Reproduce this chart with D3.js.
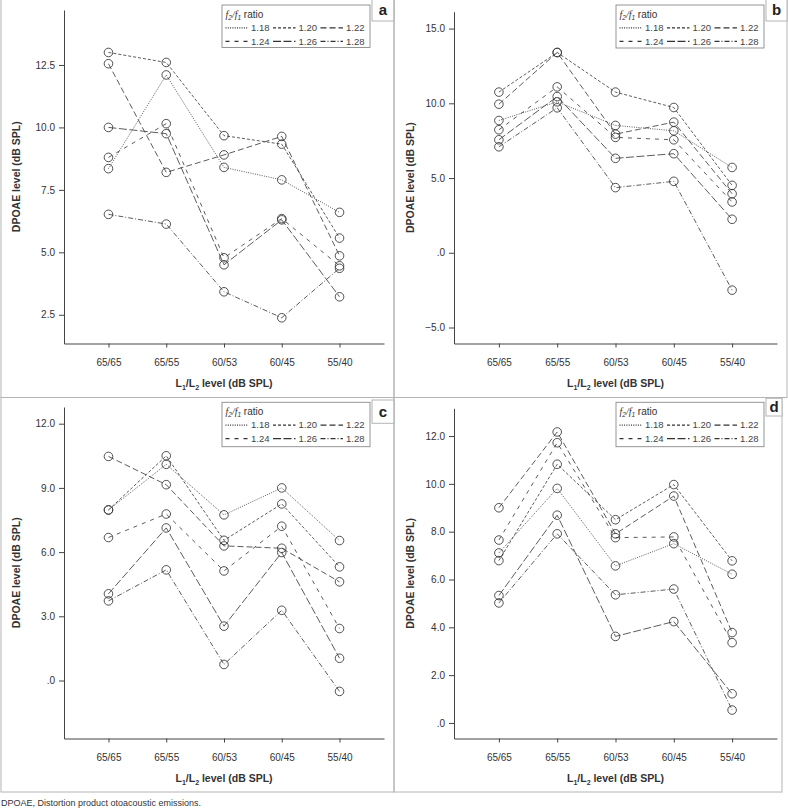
<!DOCTYPE html>
<html>
<head>
<meta charset="utf-8">
<script src="https://cdn.jsdelivr.net/npm/d3@7"></script>
<style>
body { margin: 0; background: #fff; }
svg { display: block; font-family: 'Liberation Sans', Arial, sans-serif; }
</style>
</head>
<body>
<svg id="chart"></svg>
<script>
const width = 788;
const height = 809;

const levels = ['65/65', '65/55', '60/53', '60/45', '55/40'];
const ratios = ['1.18', '1.20', '1.22', '1.24', '1.26', '1.28'];

// one row per f2/f1 ratio, one value per L1/L2 level
const valuesA = [
    [8.35, 12.1, 8.4, 7.9, 6.6],
    [13.0, 12.6, 9.67, 9.33, 5.57],
    [12.55, 8.2, 8.9, 9.64, 4.86],
    [8.8, 10.15, 4.78, 6.35, 4.46],
    [10.0, 9.75, 4.5, 6.3, 3.22],
    [6.52, 6.13, 3.42, 2.38, 4.36]
];
const valuesB = [
    [8.85, 10.1, 8.52, 8.16, 5.71],
    [10.75, 13.4, 10.75, 9.72, 4.51],
    [9.94, 13.4, 7.94, 8.74, 3.95],
    [8.23, 11.1, 7.72, 7.56, 3.4],
    [7.56, 10.45, 6.32, 6.63, 2.24],
    [7.09, 9.7, 4.36, 4.78, -2.5]
];
const valuesC = [
    [7.97, 10.1, 7.74, 9.0, 6.54],
    [7.97, 10.5, 6.55, 8.25, 5.31],
    [10.47, 9.15, 6.29, 6.18, 4.61],
    [6.68, 7.78, 5.12, 7.21, 2.43],
    [4.05, 7.13, 2.54, 5.98, 1.04],
    [3.72, 5.17, 0.75, 3.28, -0.51]
];
const valuesD = [
    [7.11, 9.81, 6.57, 7.5, 6.22],
    [6.79, 10.82, 8.5, 9.97, 6.78],
    [9.0, 12.17, 7.91, 9.49, 3.78],
    [7.65, 11.72, 7.75, 7.78, 3.36],
    [5.33, 8.69, 3.62, 4.24, 1.22],
    [5.02, 7.91, 5.36, 5.6, 0.54]
];

const ticksA = [2.5, 5.0, 7.5, 10.0, 12.5];
const ticksB = [-5, 0, 5, 10, 15];
const ticksC = [0, 3, 6, 9, 12];
const ticksD = [0, 2, 4, 6, 8, 10, 12];

const dashes = ['1,1.3', '3,2', '6,3', '4,5', '8,2.5', '5,2,1,2'];

const panels = [
    {label: 'a', left: 0, top: 0, right: 394, values: valuesA, ticks: ticksA, yMin: 1.35, yMax: 14.7,
     axisX: 64, axisEnd: 384, axisTop: 10, legendTop: 5, legendH: 42.5, boxTop: -1, boxBottom: 21},
    {label: 'b', left: 394, top: 0, right: 787, values: valuesB, ticks: ticksB, yMin: -6.07, yMax: 16.13,
     axisX: 60, axisEnd: 383, axisTop: 11.7, legendTop: 5, legendH: 43, boxTop: -1, boxBottom: 21},
    {label: 'c', left: 0, top: 395, right: 394, values: valuesC, ticks: ticksC, yMin: -2.71, yMax: 12.78,
     axisX: 64, axisEnd: 384, axisTop: 12, legendTop: 7.3, legendH: 44.4, boxTop: 5, boxBottom: 28.3},
    {label: 'd', left: 394, top: 395, right: 782, values: valuesD, ticks: ticksD, yMin: -0.65, yMax: 13.16,
     axisX: 60, axisEnd: 383, axisTop: 13.3, legendTop: 7.3, legendH: 44.4, boxTop: 3.3, boxBottom: 21}
];

const axisBottomY = 343.5;
const borderColor = '#b4b4b4';

const svg = d3.select('#chart')
    .attr('width', width)
    .attr('height', height);

svg.append('rect').attr('width', width).attr('height', height).attr('fill', '#fff');

const fmt = d => d3.format('.1f')(d).replace(/^0\./, '.');

panels.forEach(p => {
    const g = svg.append('g').attr('transform', `translate(${p.left}, ${p.top})`);

    const x = d3.scalePoint().domain(levels).range([p.axisX, p.axisEnd]).padding(0.77);
    const y = d3.scaleLinear().domain([p.yMin, p.yMax]).range([axisBottomY, p.axisTop]);

    // panel frame
    g.append('rect')
        .attr('x', p.left == 0 ? 1 : 0)
        .attr('y', p.top == 0 ? -1 : 2.5)
        .attr('width', p.right - p.left - (p.left == 0 ? 1 : 0))
        .attr('height', p.top == 0 ? 398.5 : 394.5)
        .attr('fill', 'none')
        .attr('stroke', borderColor)
        .attr('stroke-width', 1);

    const xAxis = g.append('g')
        .attr('transform', `translate(0, ${axisBottomY})`)
        .call(d3.axisBottom(x).tickSize(4).tickPadding(11).tickSizeOuter(0));

    const yAxis = g.append('g')
        .attr('transform', `translate(${p.axisX}, 0)`)
        .call(d3.axisLeft(y).tickValues(p.ticks).tickFormat(fmt).tickSize(5).tickPadding(4).tickSizeOuter(0));

    [xAxis, yAxis].forEach(a => {
        a.attr('font-family', null).attr('font-size', null);
        a.select('.domain').attr('stroke', '#444').attr('stroke-width', 1);
        a.selectAll('.tick line').attr('stroke', '#444');
        a.selectAll('.tick text').attr('fill', '#333').style('font-size', '10px');
    });

    const line = d3.line()
        .x((d, i) => x(levels[i]))
        .y(d => y(d));

    p.values.forEach((row, k) => {
        g.append('path')
            .datum(row)
            .attr('fill', 'none')
            .attr('stroke', '#4a4a4a')
            .attr('stroke-width', 0.9)
            .attr('stroke-dasharray', dashes[k])
            .attr('d', line);
    });

    p.values.forEach(row => {
        g.selectAll(null)
            .data(row)
            .enter()
            .append('circle')
            .attr('cx', (d, i) => x(levels[i]))
            .attr('cy', d => y(d))
            .attr('r', 4.3)
            .attr('fill', 'none')
            .attr('stroke', '#333')
            .attr('stroke-width', 0.85);
    });

    // axis titles
    const xTitle = g.append('text')
        .attr('x', (p.axisX + p.axisEnd) / 2)
        .attr('y', 386.5)
        .attr('text-anchor', 'middle')
        .attr('font-weight', 'bold')
        .attr('font-size', 10.5)
        .attr('fill', '#333');
    xTitle.append('tspan').text('L');
    xTitle.append('tspan').attr('font-size', 7).attr('dy', 3).text('1');
    xTitle.append('tspan').attr('dy', -3).text('/L');
    xTitle.append('tspan').attr('font-size', 7).attr('dy', 3).text('2');
    xTitle.append('tspan').attr('dy', -3).text(' level (dB SPL)');

    g.append('text')
        .attr('transform', `translate(19.5, ${(axisBottomY + p.axisTop) / 2}) rotate(-90)`)
        .attr('text-anchor', 'middle')
        .attr('font-weight', 'bold')
        .attr('font-size', 10.5)
        .attr('fill', '#333')
        .text('DPOAE level (dB SPL)');

    // legend
    const lg = g.append('g').attr('transform', `translate(222, ${p.legendTop})`);
    lg.append('rect')
        .attr('width', 148)
        .attr('height', p.legendH)
        .attr('fill', '#fff')
        .attr('stroke', '#8a8a8a')
        .attr('stroke-width', 0.9);

    const title = lg.append('text')
        .attr('x', 3.5)
        .attr('y', 12.5)
        .attr('font-size', 10)
        .attr('fill', '#333');
    title.append('tspan').attr('font-style', 'italic').attr('font-family', 'Liberation Serif, serif').text('f');
    title.append('tspan').attr('font-size', 6.5).attr('dy', 2.5).attr('font-style', 'italic').text('2');
    title.append('tspan').attr('dy', -2.5).attr('font-family', 'Liberation Serif, serif').attr('font-style', 'italic').text('/f');
    title.append('tspan').attr('font-size', 6.5).attr('dy', 2.5).attr('font-style', 'italic').text('1');
    title.append('tspan').attr('dy', -2.5).text(' ratio');

    ratios.forEach((r, k) => {
        const col = k % 3;
        const rowY = k < 3 ? 22.8 : 36.4;
        const sx = 3.5 + col * 47.5;
        lg.append('line')
            .attr('x1', sx).attr('x2', sx + 22.5)
            .attr('y1', rowY).attr('y2', rowY)
            .attr('stroke', '#333')
            .attr('stroke-width', 1.2)
            .attr('stroke-dasharray', dashes[k]);
        lg.append('text')
            .attr('x', sx + 25.5)
            .attr('y', rowY + 3.3)
            .attr('font-size', 9.5)
            .attr('fill', '#444')
            .text(r);
    });

    // panel label box
    const bw = p.right - p.left - 372;
    g.append('rect')
        .attr('x', 372)
        .attr('y', p.boxTop)
        .attr('width', bw)
        .attr('height', p.boxBottom - p.boxTop)
        .attr('fill', '#fff')
        .attr('stroke', borderColor)
        .attr('stroke-width', 1);
    g.append('text')
        .attr('x', 372 + bw / 2)
        .attr('y', (p.boxTop + p.boxBottom) / 2 + 5)
        .attr('text-anchor', 'middle')
        .attr('font-weight', 'bold')
        .attr('font-size', 15)
        .attr('fill', '#222')
        .text(p.label);
});

svg.append('text')
    .attr('x', 1)
    .attr('y', 806)
    .attr('font-size', 9)
    .attr('fill', '#333')
    .text('DPOAE, Distortion product otoacoustic emissions.');
</script>
</body>
</html>
